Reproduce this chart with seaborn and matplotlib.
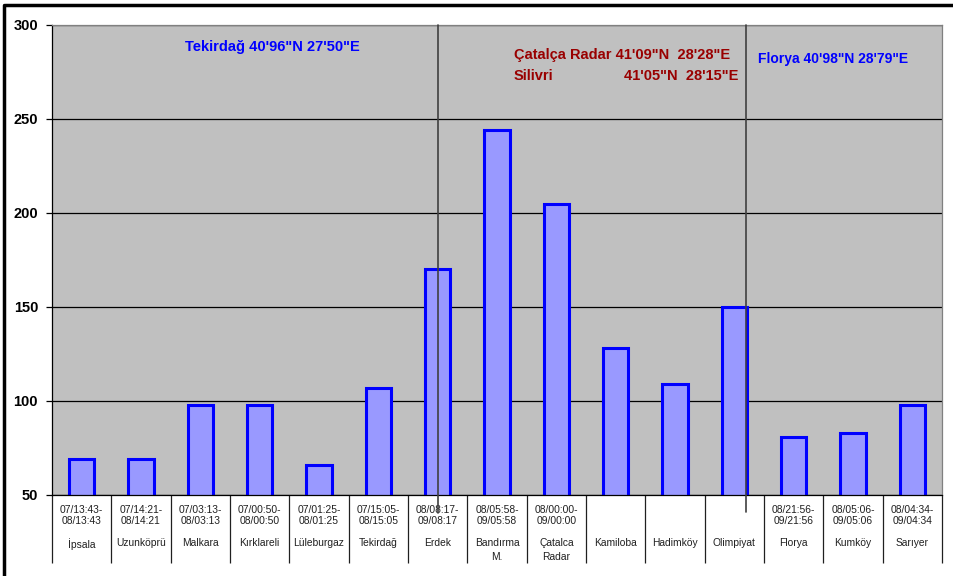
import matplotlib
matplotlib.use("Agg")
import matplotlib.pyplot as plt
import matplotlib.transforms as mtransforms
from matplotlib.lines import Line2D
import seaborn as sns

# Data
stations = ["İpsala", "Uzunköprü", "Malkara", "Kırklareli", "Lüleburgaz", "Tekirdağ",
            "Erdek", "Bandırma\nM.", "Çatalca\nRadar", "Kamiloba", "Hadimköy",
            "Olimpiyat", "Florya", "Kumköy", "Sarıyer"]
periods = ["07/13:43-\n08/13:43", "07/14:21-\n08/14:21", "07/03:13-\n08/03:13",
           "07/00:50-\n08/00:50", "07/01:25-\n08/01:25", "07/15:05-\n08/15:05",
           "08/08:17-\n09/08:17", "08/05:58-\n09/05:58", "08/00:00-\n09/00:00",
           "", "", "", "08/21:56-\n09/21:56", "08/05:06-\n09/05:06", "08/04:34-\n09/04:34"]
values = [69, 69, 98, 98, 66, 107, 170, 244, 205, 128, 109, 150, 81, 83, 98]
yticks = [50, 100, 150, 200, 250, 300]

sns.set_theme(style="white")
plt.rcParams["font.family"] = ["Liberation Sans", "DejaVu Sans"]

fig = plt.figure(figsize=(9.54, 5.76), dpi=100)
ax = fig.add_axes([52 / 954, 1 - 495 / 576, 890 / 954, 470 / 576])
ax.set_facecolor("#C0C0C0")

sns.barplot(x=list(range(len(values))), y=values, color="#9999FF", saturation=1,
            edgecolor="#0000FF", linewidth=2.2, width=0.43, ax=ax, zorder=2)

ax.set_ylim(50, 300)
ax.set_xlim(-0.5, len(values) - 0.5)
ax.set_yticks(yticks)
ax.set_yticklabels([str(v) for v in yticks], fontsize=10.5, fontweight="bold")
ax.yaxis.grid(True, color="black", linewidth=0.9)
ax.set_axisbelow(True)
ax.tick_params(axis="y", direction="out", length=4, width=0.9, color="black",
               left=True, pad=6, labelcolor="black")

# category separators below the axis
ax.set_xticks(range(len(values)))
ax.set_xticklabels([])
ax.tick_params(axis="x", which="major", length=0)
ax.set_xticks([i - 0.5 for i in range(len(values) + 1)], minor=True)
ax.tick_params(axis="x", which="minor", bottom=True, direction="out",
               length=49, width=0.9, color="#202020")

for name, sp in ax.spines.items():
    sp.set_linewidth(0.9)
    sp.set_color("black" if name in ("left", "bottom") else "#808080")
ax.set_xlabel("")
ax.set_ylabel("")

trans = mtransforms.blended_transform_factory(ax.transData, ax.transAxes)
for i, (p, s) in enumerate(zip(periods, stations)):
    if p:
        ax.text(i, -0.021, p, transform=trans, ha="center", va="top",
                fontsize=7.4, linespacing=1.1, color="#202020")
    ax.text(i, -0.092, s, transform=trans, ha="center", va="top",
            fontsize=7.4, linespacing=1.45, color="#202020")

# region dividers
ax.axvline(6, ymin=-0.038, ymax=1, color="#404040", linewidth=1.2, clip_on=False, zorder=3)
ax.axvline(11.2, ymin=-0.036, ymax=1, color="#404040", linewidth=1.2, clip_on=False, zorder=3)

# region labels
ax.text(0.1494, 0.953, "Tekirdağ 40'96\"N 27'50\"E", transform=ax.transAxes,
        color="#0000FF", fontsize=10.5, fontweight="bold", va="center")
ax.text(0.519, 0.936, "Çatalça Radar 41'09\"N  28'28\"E", transform=ax.transAxes,
        color="#990000", fontsize=10.5, fontweight="bold", va="center")
ax.text(0.519, 0.891, "Silivri", transform=ax.transAxes,
        color="#990000", fontsize=10.5, fontweight="bold", va="center")
ax.text(0.771, 0.891, "41'05\"N  28'15\"E", transform=ax.transAxes,
        color="#990000", fontsize=10.5, fontweight="bold", va="center", ha="right")
ax.text(0.793, 0.928, "Florya 40'98\"N 28'79\"E", transform=ax.transAxes,
        color="#0000FF", fontsize=10, fontweight="bold", va="center")

# outer frame (top and left)
fig.add_artist(Line2D([5 / 954, 1], [1 - 5 / 576, 1 - 5 / 576], color="black",
                      linewidth=2.5, transform=fig.transFigure))
fig.add_artist(Line2D([4 / 954, 4 / 954], [0, 1 - 5 / 576], color="black",
                      linewidth=2.5, transform=fig.transFigure))

plt.savefig("out.png", dpi=100)
plt.close()
